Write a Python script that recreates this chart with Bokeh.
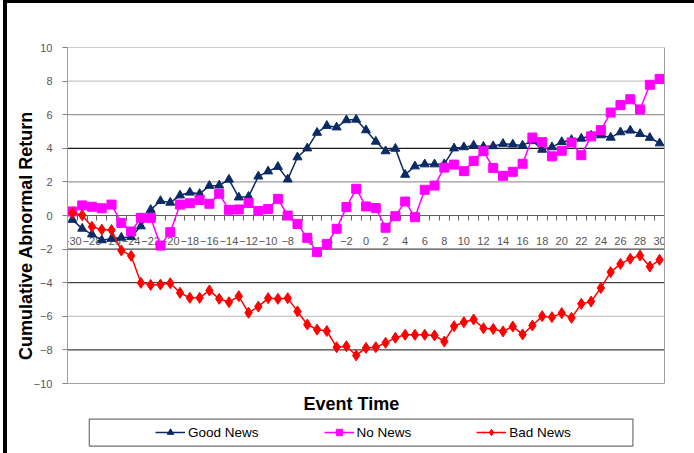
from bokeh.plotting import figure
from bokeh.models import (FixedTicker, Span, Legend, LegendItem, Label,
                          LinearAxis, GlobalInlineStyleSheet)
from bokeh.embed import file_html
from bokeh.resources import INLINE

event_time = list(range(-30, 31))
good_news = [-0.25, -0.78, -1.12, -1.47, -1.38, -1.32, -1.28, -0.64, 0.34, 0.87,
             0.77, 1.2, 1.37, 1.29, 1.77, 1.79, 2.14, 1.08, 1.12, 2.33,
             2.63, 2.9, 2.15, 3.47, 4.0, 4.93, 5.34, 5.25, 5.68, 5.71,
             5.08, 4.4, 3.83, 3.98, 2.43, 2.93, 3.05, 3.05, 3.06, 4.0,
             4.07, 4.17, 4.1, 4.13, 4.27, 4.23, 4.17, 4.45, 3.92, 4.07,
             4.38, 4.5, 4.58, 4.76, 4.78, 4.64, 4.96, 5.06, 4.86, 4.63, 4.3]
no_news = [0.24, 0.6, 0.52, 0.43, 0.65, -0.44, -0.95, -0.14, -0.14, -1.79,
           -0.99, 0.65, 0.73, 0.93, 0.7, 1.29, 0.34, 0.36, 0.75, 0.27,
           0.38, 0.99, 0.0, -0.5, -1.33, -2.18, -1.69, -0.79, 0.5, 1.59,
           0.54, 0.44, -0.73, -0.04, 0.83, -0.1, 1.53, 1.78, 2.85, 3.03,
           2.64, 3.25, 3.83, 2.83, 2.36, 2.6, 3.08, 4.64, 4.37, 3.52,
           3.85, 4.35, 3.59, 4.71, 5.08, 6.13, 6.57, 6.92, 6.31, 7.78, 8.13]
bad_news = [0.16, 0.02, -0.67, -0.84, -0.87, -2.08, -2.4, -4.01, -4.13, -4.11,
            -4.03, -4.6, -4.9, -4.9, -4.46, -4.96, -5.16, -4.8, -5.79, -5.42,
            -4.92, -4.96, -4.92, -5.71, -6.49, -6.79, -6.88, -7.84, -7.78, -8.33,
            -7.88, -7.84, -7.58, -7.28, -7.1, -7.1, -7.1, -7.14, -7.5, -6.59,
            -6.35, -6.19, -6.71, -6.75, -6.9, -6.61, -7.08, -6.55, -5.99, -6.05,
            -5.81, -6.09, -5.26, -5.12, -4.31, -3.37, -2.88, -2.58, -2.38, -3.04, -2.64]
series_names = ["Good News", "No News", "Bad News"]
x_tick_labels = list(range(-30, 31, 2))
y_ticks = list(range(-10, 11, 2))
y_min, y_max = -10, 10

assert len(good_news) == len(no_news) == len(bad_news) == len(event_time)

FONT = "Liberation Sans"
PX_PER_UNIT = 16.8          # vertical scale of the chart area
EXTRA = 70 / PX_PER_UNIT    # room below the chart for title + legend

p = figure(width=694, height=453, x_range=(-30.5, 30.5),
           y_range=(y_min - EXTRA, y_max),
           x_axis_location="above",
           toolbar_location=None, output_backend="svg", title=None,
           min_border_left=67, min_border_right=30, min_border_top=47,
           min_border_bottom=0)
p.stylesheets = [GlobalInlineStyleSheet(css="""
html, body { background: white; }
body::before { content: ""; position: fixed; left: 3px; top: 0px; width: 4px;
               height: 100%; background: black; z-index: 10; }
body::after { content: ""; position: fixed; left: 3px; top: 0px; width: 100%;
              height: 3px; background: black; z-index: 10; }
""")]
p.background_fill_color = "white"
p.border_fill_color = "white"
p.outline_line_color = None
p.xgrid.visible = False
p.ygrid.visible = False

# chart-area frame: top and bottom edges
for yv in (y_min, y_max):
    p.add_layout(Span(location=yv, dimension="width", line_color="#a0a0a0",
                      line_width=1, level="underlay"))

# horizontal gridlines (scan shows uneven darkness)
grid_colors = {8: "#c8c8c8", 6: "#9a9a9a", 4: "#1a1a1a", 2: "#9a9a9a",
               -2: "#484848", -4: "#404040", -6: "#c8c8c8", -8: "#404040"}
for yv, col in grid_colors.items():
    p.add_layout(Span(location=yv, dimension="width", line_color=col,
                      line_width=1.3, level="underlay"))

# x axis crossing at zero (ticks and labels hang below the zero line)
xa = p.xaxis[0]
xa.fixed_location = 0
xa.level = "underlay"
xa.ticker = FixedTicker(ticks=x_tick_labels,
                        minor_ticks=[t + 0.5 for t in range(-31, 31)])
xa.axis_line_color = "#606060"
xa.axis_line_width = 1
xa.major_tick_out = 0
xa.major_tick_in = 0
xa.minor_tick_out = 0
xa.minor_tick_in = 5
xa.minor_tick_line_color = "#606060"
xa.major_label_text_font = FONT
xa.major_label_text_font_size = "11px"
xa.major_label_text_color = "#555555"
xa.major_label_standoff = -29

ya = p.yaxis[0]
ya.bounds = (y_min, y_max)
ya.ticker = FixedTicker(ticks=y_ticks, minor_ticks=[])
ya.axis_line_color = "#a0a0a0"
ya.major_tick_out = 5
ya.major_tick_in = 0
ya.major_tick_line_color = "#808080"
ya.minor_tick_out = 0
ya.minor_tick_in = 0
ya.major_label_text_font = FONT
ya.major_label_text_font_size = "11px"
ya.major_label_text_color = "#555555"
ya.major_label_standoff = 10
# leading no-break spaces lift the title so it sits where the reference has it
ya.axis_label = "\u00a0" * 6 + "Cumulative Abnormal Return"
ya.axis_label_text_font = FONT
ya.axis_label_text_font_style = "bold"
ya.axis_label_text_font_size = "18px"
ya.axis_label_text_color = "black"
ya.axis_label_standoff = -5

# right edge of the chart area
ra = LinearAxis(bounds=(y_min, y_max), ticker=FixedTicker(ticks=[], minor_ticks=[]),
                axis_line_color="#a0a0a0", major_tick_out=0, major_tick_in=0,
                minor_tick_out=0, minor_tick_in=0, major_label_text_alpha=0)
p.add_layout(ra, "right")

colors = ["#0b2a66", "#ff00ff", "#ff0000"]
markers = ["triangle", "square", "diamond"]
sizes = [9, 9, 11]
items = []
for name, vals, col, mk, sz in zip(series_names, [good_news, no_news, bad_news],
                                   colors, markers, sizes):
    lr = p.line(event_time, vals, line_color=col, line_width=1.5)
    sr = p.scatter(event_time, vals, marker=mk, size=sz, fill_color=col,
                   line_color=col)
    items.append(LegendItem(label=name, renderers=[lr, sr]))

# axis title below the chart area
p.add_layout(Label(x=-1.5, y=-11.2, text="Event Time", text_font=FONT,
                   text_font_style="bold", text_font_size="18px",
                   text_align="center", text_baseline="middle",
                   text_color="black"))

# legend frame
p.add_layout(Label(x=-0.5, y=-12.92, text=" ", text_font=FONT,
                   text_font_size="13px", text_align="center",
                   text_baseline="middle", padding=(270, 6),
                   border_line_color="#707070", border_line_width=1.2,
                   background_fill_color="white"))

legend = Legend(items=items, orientation="horizontal", location=(83, 8),
                padding=5, margin=0, spacing=65, glyph_width=30,
                glyph_height=16, label_height=16, label_standoff=3,
                label_text_font=FONT, label_text_font_size="13.5px",
                label_text_color="black",
                border_line_alpha=0, background_fill_alpha=0)
p.add_layout(legend)

open("out.html", "w").write(file_html(p, INLINE))
